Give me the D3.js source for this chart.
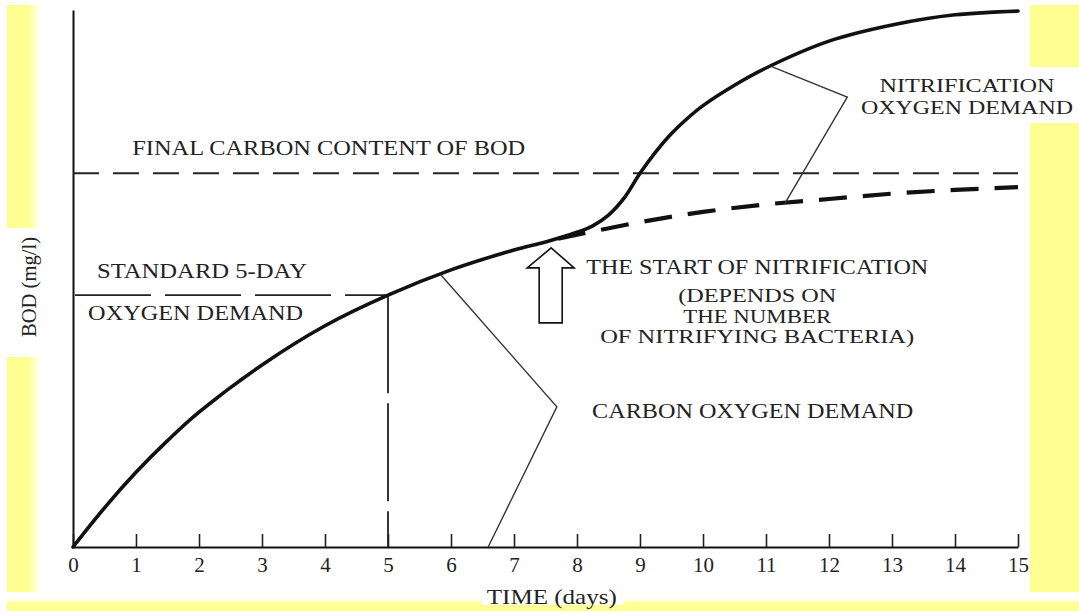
<!DOCTYPE html>
<html>
<head>
<meta charset="utf-8">
<script src="https://cdn.jsdelivr.net/npm/d3@7"></script>
<style>
  html, body { margin: 0; padding: 0; background: #fff; }
  svg { display: block; }
  text { font-family: "Liberation Serif", "Times New Roman", serif; fill: #222; }
</style>
</head>
<body>
<svg id="chart"></svg>
<script>
// time axis tick labels (days)
const dayTicks = [0, 1, 2, 3, 4, 5, 6, 7, 8, 9, 10, 11, 12, 13, 14, 15];

// total BOD curve (carbon + nitrification)
const totalDays = [0, 0.5, 1, 1.5, 2, 3, 4, 5, 6, 7, 7.5, 8, 8.25, 8.5, 8.75, 9, 9.25, 9.5, 9.75, 10, 10.5, 11, 12, 13, 14, 15];
const totalBod  = [0, 0.73, 1.39, 1.98, 2.51, 3.39, 4.12, 4.69, 5.16, 5.53, 5.68, 5.86, 5.98, 6.18, 6.50, 6.96, 7.36, 7.70, 7.98, 8.22, 8.60, 8.92, 9.42, 9.72, 9.91, 9.98];

// carbon demand carried on past the start of nitrification (dashed)
const carbonDays = [7.7, 9, 10, 11, 12, 13, 14, 15];
const carbonBod  = [5.74, 6.05, 6.24, 6.38, 6.48, 6.58, 6.65, 6.70];

// reference levels
const finalCarbonBod = 6.96;
const standardDay = 5;
const standardBod = 4.69;
const nitrificationStartDay = 7.59;

const width = 1079, height = 611;
const yellow = "#ffff91";

const svg = d3.select("#chart").attr("width", width).attr("height", height);

// --- background frame (yellow borders of the scan)
const defs = svg.append("defs");
const gl = defs.append("linearGradient").attr("id", "leftFade");
gl.append("stop").attr("offset", "0%").attr("stop-color", yellow);
gl.append("stop").attr("offset", "62%").attr("stop-color", yellow);
gl.append("stop").attr("offset", "100%").attr("stop-color", "#fff");
const gb = defs.append("linearGradient").attr("id", "bottomFade")
    .attr("x1", 0).attr("y1", 0).attr("x2", 0).attr("y2", 1);
gb.append("stop").attr("offset", "0%").attr("stop-color", "#fff");
gb.append("stop").attr("offset", "40%").attr("stop-color", "#fffff0");
gb.append("stop").attr("offset", "60%").attr("stop-color", yellow);
gb.append("stop").attr("offset", "100%").attr("stop-color", yellow);

svg.append("rect").attr("width", width).attr("height", height).attr("fill", "#fff");
svg.append("rect").attr("x", 7).attr("y", 5).attr("width", 34).attr("height", 606).attr("fill", "url(#leftFade)");
svg.append("rect").attr("x", 1030).attr("y", 5).attr("width", 49).attr("height", 606).attr("fill", yellow);
svg.append("rect").attr("x", 7).attr("y", 592).attr("width", 1072).attr("height", 19).attr("fill", "url(#bottomFade)");
// white patches behind labels that sit on the border
svg.append("rect").attr("x", 7).attr("y", 228).attr("width", 34).attr("height", 129).attr("fill", "#fff");
svg.append("rect").attr("x", 1030).attr("y", 67).attr("width", 49).attr("height", 56).attr("fill", "#fff");
svg.append("rect").attr("x", 482).attr("y", 584).attr("width", 142).attr("height", 21).attr("fill", "#fff");

// --- scales and axes
const x = d3.scaleLinear().domain([0, 15]).range([73, 1018]);
const y = d3.scaleLinear().domain([0, 10]).range([547, 10]);

const xAxis = svg.append("g")
    .attr("transform", "translate(0," + y(0) + ")")
    .call(d3.axisBottom(x).tickValues(dayTicks).tickFormat(d3.format("d"))
        .tickSizeInner(-13).tickSizeOuter(0).tickPadding(10));
xAxis.select(".domain").attr("stroke", "#111").attr("stroke-width", 2);
xAxis.selectAll(".tick line").attr("stroke", "#222").attr("stroke-width", 1.6);
xAxis.selectAll(".tick text").attr("font-size", 21).attr("font-family", null).attr("fill", "#222");

const yAxis = svg.append("g")
    .attr("transform", "translate(" + x(0) + ",0)")
    .call(d3.axisLeft(y).tickValues([]).tickSizeOuter(0));
yAxis.select(".domain").attr("stroke", "#111").attr("stroke-width", 2);

// axis titles
svg.append("text")
    .attr("x", x(7.6)).attr("y", 604)
    .attr("text-anchor", "middle").attr("font-size", 21)
    .attr("textLength", 130).attr("lengthAdjust", "spacingAndGlyphs")
    .text("TIME (days)");
svg.append("text")
    .attr("transform", "translate(36," + 287 + ") rotate(-90)")
    .attr("text-anchor", "middle").attr("font-size", 20)
    .attr("textLength", 100).attr("lengthAdjust", "spacingAndGlyphs")
    .text("BOD (mg/l)");

// --- reference dashed lines
svg.append("line")
    .attr("x1", x(0)).attr("x2", x(15))
    .attr("y1", y(finalCarbonBod)).attr("y2", y(finalCarbonBod))
    .attr("stroke", "#222").attr("stroke-width", 1.8)
    .attr("stroke-dasharray", "26,14");

svg.append("line")
    .attr("x1", x(0) + 2).attr("x2", x(standardDay))
    .attr("y1", y(standardBod)).attr("y2", y(standardBod))
    .attr("stroke", "#222").attr("stroke-width", 1.8)
    .attr("stroke-dasharray", "76,14");

svg.append("line")
    .attr("x1", x(standardDay)).attr("x2", x(standardDay))
    .attr("y1", y(standardBod)).attr("y2", y(0))
    .attr("stroke", "#222").attr("stroke-width", 1.8)
    .attr("stroke-dasharray", "98,10");

// --- curves
const line = d3.line()
    .x(d => x(d[0]))
    .y(d => y(d[1]))
    .curve(d3.curveCatmullRom.alpha(0.5));

svg.append("path")
    .datum(carbonDays.map((d, i) => [d, carbonBod[i]]))
    .attr("d", line)
    .attr("fill", "none")
    .attr("stroke", "#111")
    .attr("stroke-width", 4.2)
    .attr("stroke-dasharray", "28,16");

svg.append("path")
    .datum(totalDays.map((d, i) => [d, totalBod[i]]))
    .attr("d", line)
    .attr("fill", "none")
    .attr("stroke", "#111")
    .attr("stroke-width", 3.6)
    .attr("stroke-linecap", "round");

// --- pointer lines
const pointer = d3.line().x(d => x(d[0])).y(d => y(d[1]));
svg.append("path")
    .attr("d", pointer([[5.83, 5.08], [7.68, 2.61], [6.59, 0]]))
    .attr("fill", "none").attr("stroke", "#333").attr("stroke-width", 1.4);
svg.append("path")
    .attr("d", pointer([[11.1, 8.94], [12.29, 8.38], [11.3, 6.40]]))
    .attr("fill", "none").attr("stroke", "#333").attr("stroke-width", 1.4);

// --- hollow arrow at the start of nitrification
const ax = x(nitrificationStartDay), ay = y(5.57);
svg.append("path")
    .attr("transform", "translate(" + ax + "," + ay + ")")
    .attr("d", "M0,0 L23,20 L11,20 L11,75 L-12,75 L-12,20 L-24,20 Z")
    .attr("fill", "#fff").attr("stroke", "#111").attr("stroke-width", 1.6)
    .attr("stroke-linejoin", "miter");

// --- annotations
function label(txt, px, py, len, anchor, size) {
  svg.append("text")
      .attr("x", px).attr("y", py)
      .attr("text-anchor", anchor || "start")
      .attr("font-size", size || 21)
      .attr("textLength", len).attr("lengthAdjust", "spacingAndGlyphs")
      .text(txt);
}

label("FINAL  CARBON CONTENT OF BOD", x(0.94), y(7.30), 393);
label("STANDARD 5-DAY", x(0.38), y(5.01), 210);
label("OXYGEN DEMAND", x(0.24), y(4.23), 215);

label("THE START OF NITRIFICATION", x(10.86), y(5.08), 342, "middle", 20);
label("(DEPENDS ON", x(10.86), y(4.56), 158, "middle", 18);
label("THE NUMBER", x(10.86), y(4.18), 148, "middle", 18);
label("OF NITRIFYING BACTERIA)", x(10.86), y(3.79), 314, "middle", 18);

label("CARBON OXYGEN DEMAND", x(8.24), y(2.40), 321);

label("NITRIFICATION", x(14.19), y(8.48), 175, "middle", 18);
label("OXYGEN DEMAND", x(14.19), y(8.07), 212, "middle", 18);
</script>
</body>
</html>
